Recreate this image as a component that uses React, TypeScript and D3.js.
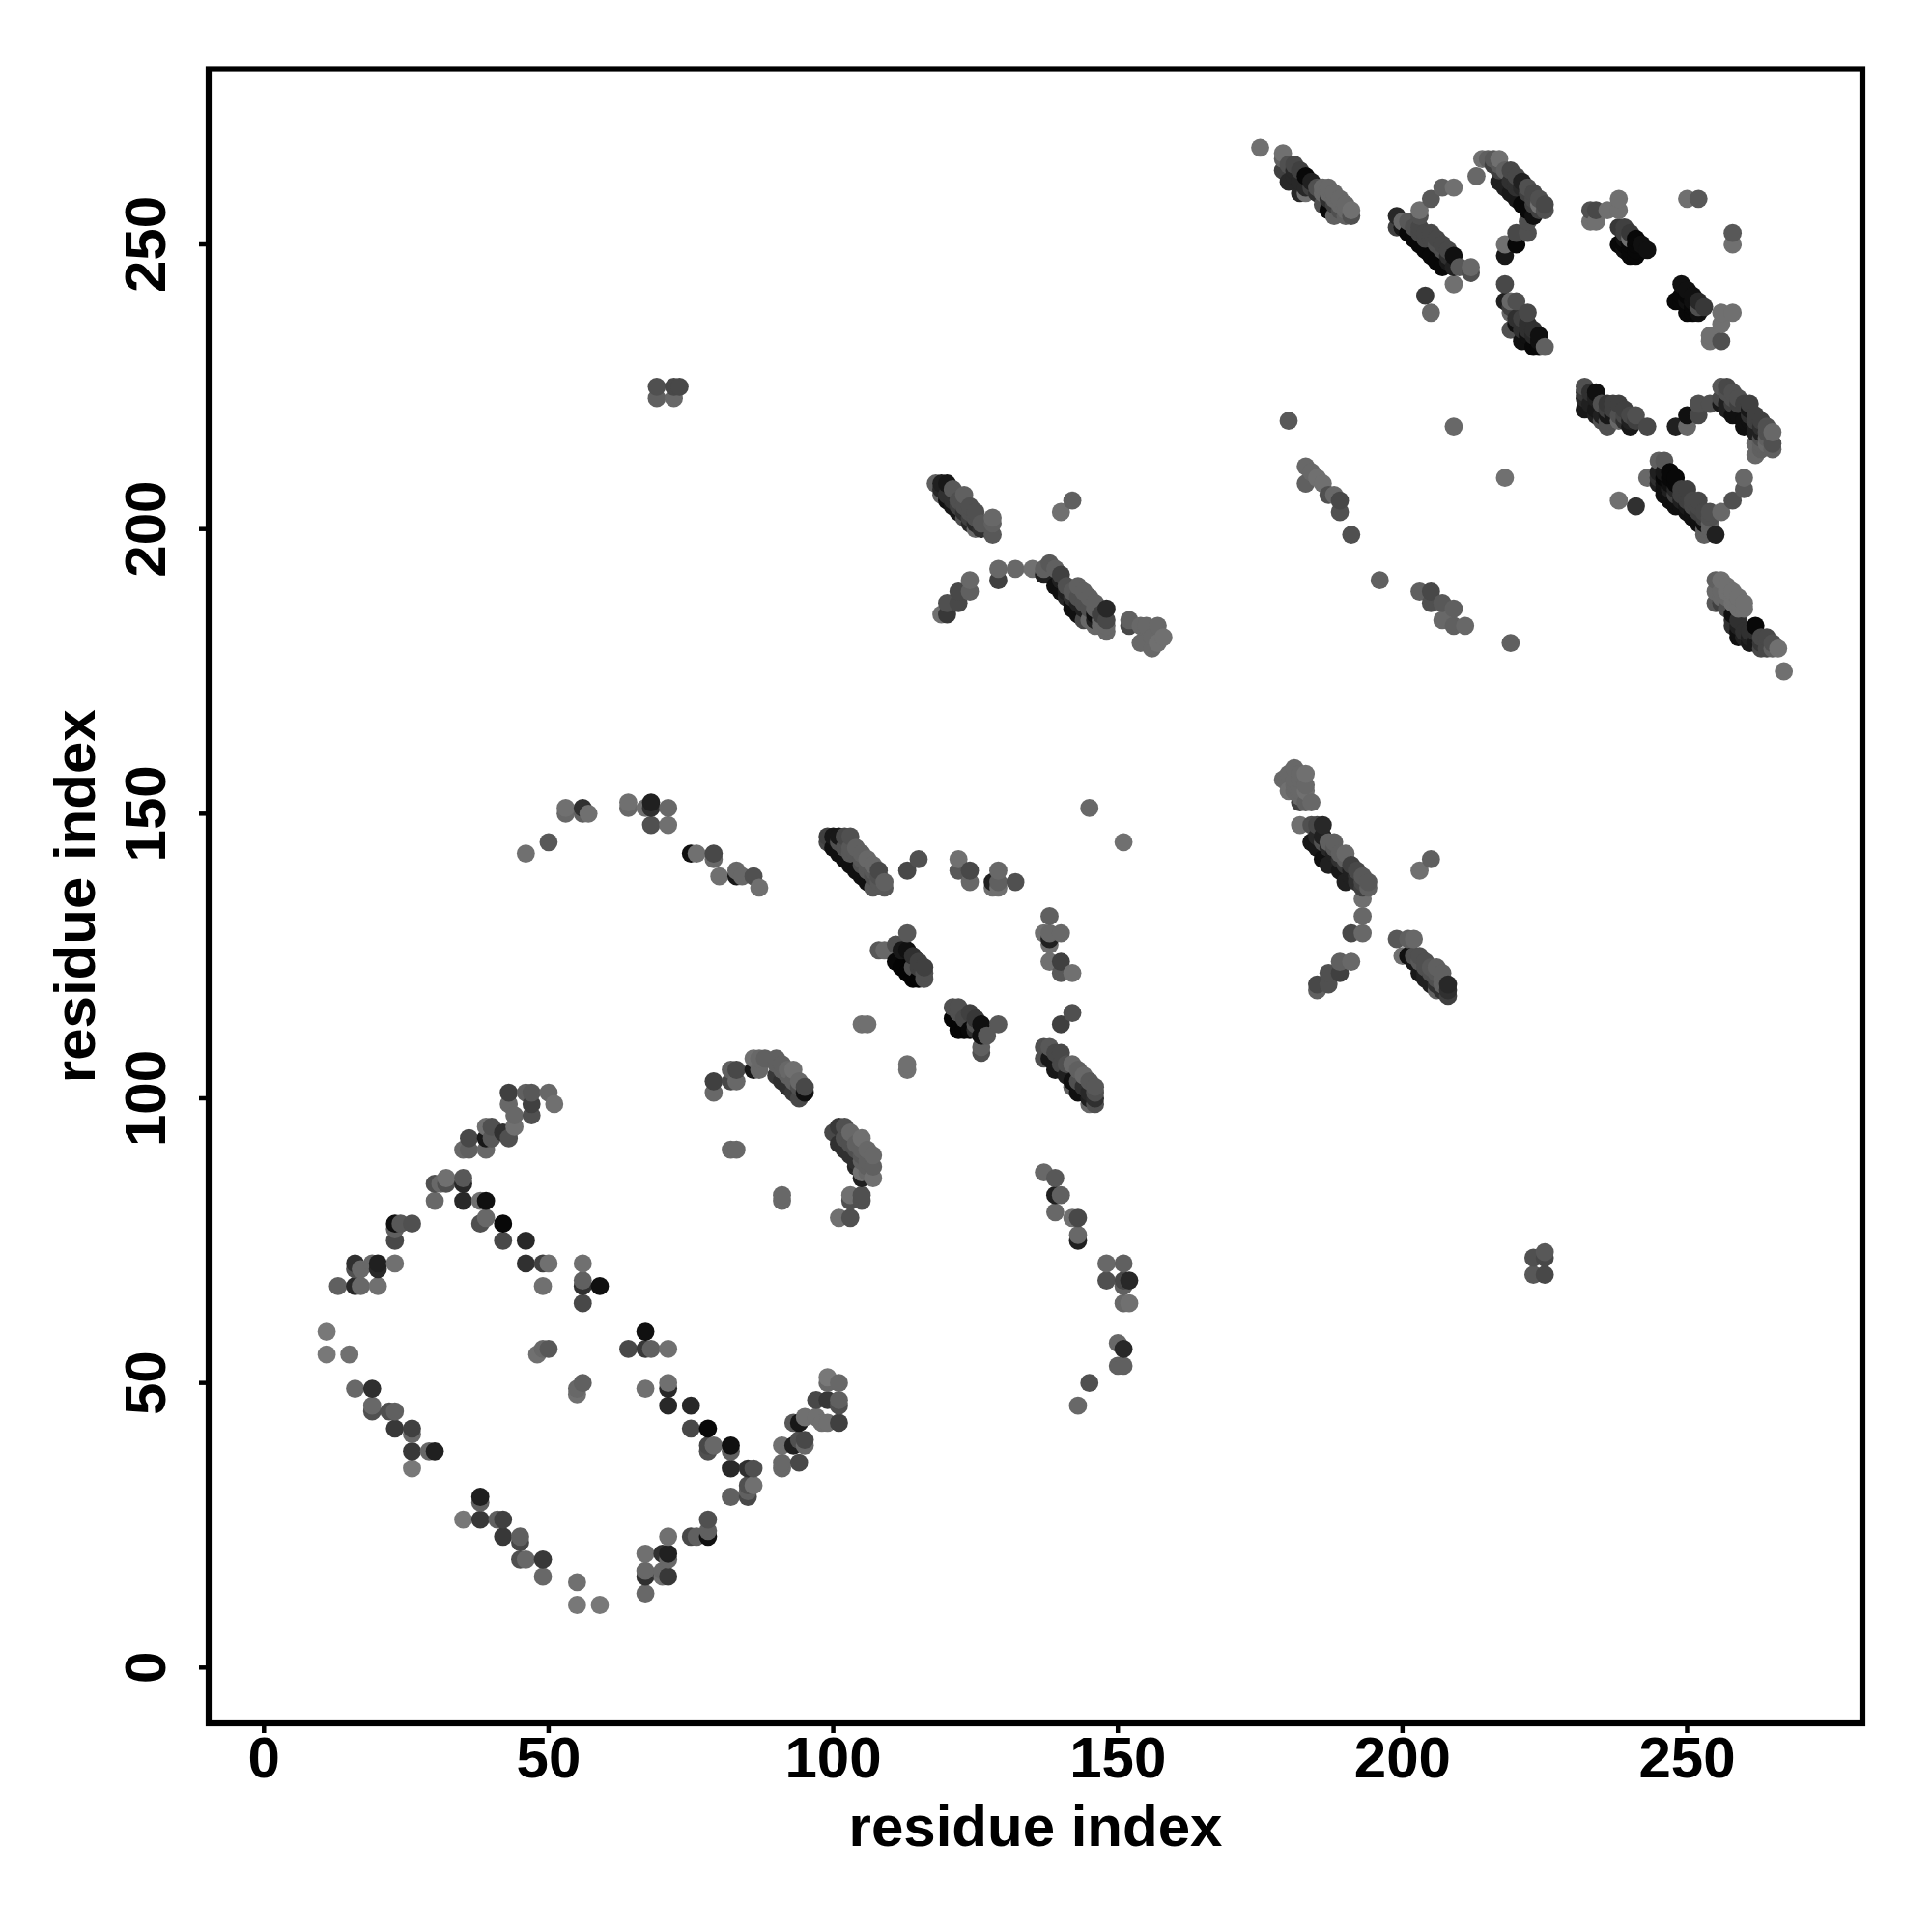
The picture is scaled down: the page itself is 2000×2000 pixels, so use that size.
import React from "react";
import * as d3 from "d3";

type P = [number, number, number];

const tickValues = [0, 50, 100, 150, 200, 250];
const axisTitle = "residue index";

// [residue i, residue j, grey level]
const lowerLeftLoop: P[] = [
  [43,101,0x40],[46,101,0x60],[47,101,0x58],[50,101,0x68],[51,99,0x70],[47,99,0x40],[47,97,0x50],[43,99,0x68],[44,97,0x68],[44,95,0x70],[43,93,0x50],[42,94,0x30],
  [40,95,0x50],[39,95,0x70],[40,93,0x58],[39,93,0x18],[39,91,0x68],[36,93,0x48],[35,91,0x68],[36,91,0x60],
  [30,85,0x50],[30,82,0x68],[31,85,0x68],[32,85,0x50],[32,86,0x70],[35,85,0x28],[35,86,0x58],[35,82,0x28],[38,82,0x70],[39,82,0x10],
  [39,79,0x68],[38,78,0x50],[42,78,0x08],[42,75,0x48],[46,75,0x28],[46,71,0x30],[49,71,0x40],[50,71,0x70],[49,67,0x70],[56,71,0x70],[56,68,0x60],[56,67,0x30],[59,67,0x10],[56,64,0x48],
  [26,78,0x50],[23,78,0x10],[24,78,0x58],[23,77,0x60],[23,75,0x48],[23,71,0x70],[20,71,0x20],[20,70,0x28],[19,71,0x68],[16,71,0x30],[16,70,0x50],[17,70,0x68],[20,67,0x70],[17,67,0x68],[16,67,0x28],[13,67,0x60],
  [11,59,0x78],[11,55,0x78],[15,55,0x70],[67,59,0x10],[64,56,0x48],[67,56,0x38],[68,56,0x60],[71,56,0x70],[50,56,0x58],[49,56,0x68],[48,55,0x70],[56,50,0x60],[55,48,0x70],[55,49,0x68],
  [16,49,0x68],[19,49,0x30],[19,46,0x68],[19,45,0x50],[22,45,0x50],[23,45,0x60],[23,42,0x38],[26,42,0x40],[26,41,0x68],[26,38,0x38],[29,38,0x68],[30,38,0x20],[26,35,0x78],
];
const lowerBottomLoop: P[] = [
  [38,30,0x20],[38,29,0x60],[35,26,0x78],[38,26,0x38],[41,26,0x60],[42,26,0x40],[42,23,0x38],[45,23,0x60],[45,22,0x48],[45,19,0x50],[46,19,0x68],[49,19,0x38],[49,16,0x68],[55,15,0x70],[55,11,0x78],[59,11,0x78],
  [67,20,0x70],[67,17,0x68],[67,16,0x30],[67,13,0x68],[70,20,0x30],[71,20,0x20],[71,19,0x68],[70,17,0x68],[71,16,0x38],[70,16,0x70],[71,23,0x70],[75,23,0x48],[76,23,0x60],[78,23,0x10],[78,24,0x60],[78,26,0x50],
  [67,49,0x70],[71,50,0x70],[71,49,0x28],[71,46,0x28],[75,46,0x28],[75,42,0x48],[78,42,0x08],[78,39,0x48],[79,39,0x68],[78,38,0x50],[82,39,0x10],[82,38,0x60],[82,35,0x28],[85,35,0x30],[86,35,0x50],[85,32,0x50],[86,32,0x70],[85,30,0x48],[85,31,0x60],[82,30,0x60],
  [91,39,0x70],[91,36,0x68],[91,35,0x68],[94,36,0x48],[93,39,0x20],[94,40,0x50],[95,40,0x48],[95,39,0x68],[93,43,0x58],[94,43,0x18],[95,44,0x70],[97,44,0x70],[98,43,0x70],[99,43,0x70],[101,43,0x40],[97,47,0x48],[99,47,0x38],[101,47,0x60],[101,46,0x50],[99,51,0x78],[99,50,0x68],[101,50,0x68],
];
const arcAbove: P[] = [
  [46,143,0x70],[50,145,0x58],[53,151,0x70],[53,150,0x68],[56,151,0x30],[56,150,0x60],[57,150,0x70],[64,152,0x70],[64,151,0x68],[67,151,0x70],[68,152,0x20],[68,151,0x30],[71,151,0x68],[68,148,0x50],[71,148,0x70],
  [75,143,0x10],[76,143,0x70],[79,143,0x48],[79,142,0x68],[80,139,0x70],[83,140,0x68],[83,139,0x18],[84,139,0x68],[86,139,0x50],[87,137,0x70],
];
const middleBands: P[] = [
  [99,146,0x40],[99,145,0x48],[100,146,0x18],[101,146,0x18],[102,146,0x48],[103,146,0x50],[100,144,0x10],[101,143,0x10],[102,142,0x10],[103,141,0x10],[104,140,0x10],[105,139,0x10],[106,138,0x10],[107,137,0x58],
  [104,144,0x60],[105,143,0x60],[106,142,0x68],[107,141,0x68],[108,140,0x48],[109,138,0x60],[109,137,0x58],[113,140,0x48],[115,142,0x50],
  [101,145,0x50],[102,144,0x50],[103,144,0x58],[103,143,0x58],[104,143,0x58],[105,142,0x58],[105,141,0x50],[106,141,0x58],[106,140,0x58],[107,140,0x58],[107,139,0x50],[108,139,0x50],[108,138,0x58],
  [113,129,0x58],[108,126,0x58],[109,126,0x68],[111,127,0x50],[113,126,0x10],[112,126,0x18],[111,124,0x08],[112,123,0x04],[113,122,0x04],[114,121,0x04],[115,121,0x04],[115,124,0x40],[116,122,0x50],[114,123,0x50],[114,125,0x30],[115,123,0x40],[116,123,0x40],[116,121,0x50],
  [105,113,0x70],[106,113,0x70],[113,106,0x70],[113,105,0x70],
  [122,142,0x70],[122,140,0x58],[124,140,0x48],[124,138,0x68],[128,138,0x20],[128,137,0x70],[129,140,0x68],[129,138,0x60],[129,137,0x70],[132,138,0x50],
  [138,132,0x60],[137,129,0x70],[138,129,0x68],[140,129,0x68],[138,128,0x20],[138,127,0x70],[138,124,0x70],[140,124,0x40],[140,122,0x58],[142,122,0x70],[142,115,0x50],[140,113,0x40],
  [121,116,0x50],[122,116,0x50],[121,114,0x05],[122,112,0x05],[123,112,0x05],[124,115,0x40],[126,113,0x10],[126,111,0x10],[127,111,0x58],[129,113,0x58],[126,108,0x50],[126,109,0x60],[122,115,0x50],[123,114,0x48],[125,112,0x30],[124,112,0x08],[125,114,0x38],[125,113,0x50],
  [137,109,0x50],[137,107,0x50],[138,109,0x58],[140,108,0x48],[139,105,0x18],[142,106,0x68],[144,104,0x68],[142,102,0x60],[143,101,0x10],[146,102,0x58],[146,101,0x50],[146,100,0x30],[145,99,0x68],[146,99,0x50],[144,101,0x10],
  [138,107,0x18],[139,106,0x18],[140,105,0x18],[141,104,0x20],[142,103,0x10],[141,106,0x50],[143,105,0x60],[143,103,0x50],[145,103,0x58],[144,102,0x30],[145,101,0x28],[145,100,0x20],[140,106,0x48],[139,108,0x48],
  [137,87,0x68],[139,86,0x58],[139,83,0x20],[140,83,0x60],[139,80,0x68],[142,79,0x70],[143,79,0x48],[143,76,0x68],[143,75,0x20],
  [148,71,0x68],[151,71,0x60],[148,68,0x50],[151,67,0x60],[152,68,0x28],[151,68,0x48],[151,64,0x68],[152,64,0x70],[150,57,0x68],[151,56,0x28],[151,53,0x60],[150,53,0x60],[145,50,0x50],[143,46,0x68],
  [79,101,0x68],[79,103,0x40],[82,103,0x48],[83,103,0x68],[82,105,0x60],[83,105,0x48],[86,105,0x18],[87,105,0x68],[86,107,0x70],[87,107,0x68],[88,107,0x60],[90,107,0x60],[90,106,0x60],[91,106,0x60],[93,105,0x70],[94,103,0x68],[95,102,0x48],[95,101,0x10],[94,100,0x48],[90,104,0x38],[91,103,0x30],[92,102,0x30],[93,101,0x38],
  [92,104,0x60],[93,103,0x60],[94,102,0x50],[91,105,0x60],[92,105,0x68],
  [100,94,0x48],[101,95,0x38],[102,95,0x50],[103,94,0x68],[105,93,0x70],[101,92,0x30],[102,91,0x30],[103,90,0x30],[106,91,0x68],[107,90,0x68],[105,89,0x60],[107,88,0x60],[105,87,0x70],[107,86,0x70],[105,86,0x20],[105,83,0x50],[103,83,0x70],[105,82,0x50],[103,82,0x50],[103,79,0x50],[101,79,0x70],
  [102,93,0x50],[103,92,0x50],[104,92,0x60],[104,91,0x50],[105,91,0x60],[105,90,0x58],[104,89,0x30],[106,89,0x60],[106,88,0x60],[106,87,0x68],[104,88,0x28],
  [82,91,0x68],[83,91,0x68],[91,83,0x68],[91,82,0x68],
];
const crossUpper: P[] = [
  [118,208,0x60],[119,208,0x20],[120,208,0x18],[119,207,0x28],[119,206,0x60],[121,207,0x58],[123,206,0x60],[120,205,0x10],[121,204,0x18],[122,203,0x18],[125,203,0x50],[123,202,0x50],[124,201,0x28],[125,200,0x68],[128,202,0x68],[128,201,0x60],[128,199,0x58],[124,204,0x50],
  [120,206,0x30],[121,205,0x30],[122,205,0x50],[122,204,0x40],[123,204,0x50],[123,203,0x30],[124,203,0x50],[124,202,0x40],[125,201,0x28],[125,202,0x50],[126,201,0x58],[126,200,0x30],
  [140,203,0x70],[142,205,0x60],[129,193,0x68],[129,191,0x40],[132,193,0x68],[135,193,0x70],[137,193,0x60],[138,194,0x58],[137,192,0x20],[140,192,0x40],[139,193,0x60],[139,190,0x10],[140,189,0x10],[141,188,0x28],[142,187,0x10],[143,190,0x60],[145,188,0x60],[142,186,0x10],[143,185,0x10],[144,184,0x48],[146,185,0x10],[148,186,0x28],[148,184,0x48],[148,182,0x68],[145,184,0x68],
  [140,191,0x20],[141,190,0x50],[141,189,0x20],[142,189,0x58],[142,188,0x30],[143,188,0x50],[143,187,0x20],[144,189,0x60],[144,187,0x50],[144,186,0x20],[145,186,0x50],[146,187,0x60],[146,186,0x60],[146,184,0x20],[147,185,0x40],[147,184,0x68],[146,183,0x68],[147,183,0x68],[148,183,0x68],
  [124,191,0x68],[124,189,0x60],[122,189,0x48],[122,187,0x48],[120,187,0x50],[120,185,0x38],[119,185,0x70],
  [152,184,0x60],[152,183,0x48],[154,183,0x68],[154,180,0x68],[155,183,0x68],[157,183,0x68],[156,179,0x68],[156,181,0x68],[158,181,0x70],[157,180,0x70],
  [69,225,0x50],[69,223,0x60],[72,223,0x68],[72,225,0x48],[73,225,0x48],[223,72,0x50],[223,69,0x58],[225,69,0x48],[225,73,0x58],[225,72,0x48],[145,151,0x68],[151,145,0x70],
];
const topLeftBands: P[] = [
  [175,267,0x70],[179,266,0x70],[179,265,0x60],[179,263,0x40],[180,264,0x50],[181,264,0x48],[183,262,0x08],[180,261,0x28],[182,259,0x28],[183,259,0x70],[184,261,0x20],[186,260,0x68],[187,260,0x68],[186,257,0x50],[188,255,0x60],[189,258,0x68],[190,257,0x68],[191,256,0x70],[191,255,0x50],[190,255,0x60],[187,256,0x08],
  [181,263,0x28],[181,262,0x28],[182,263,0x40],[182,261,0x28],[183,260,0x28],[184,260,0x40],[185,259,0x30],[185,260,0x50],[186,259,0x68],[187,259,0x68],[187,258,0x30],[188,259,0x68],[188,258,0x68],[188,257,0x40],[189,257,0x68],[189,256,0x50],[190,256,0x68],
  [199,255,0x28],[199,253,0x40],[200,254,0x68],[203,256,0x70],[203,255,0x50],[205,258,0x58],[207,260,0x60],[209,260,0x70],[202,251,0x08],[204,249,0x08],[206,247,0x08],[205,252,0x48],[207,250,0x48],[209,248,0x10],[209,246,0x20],[210,246,0x58],[212,246,0x68],[212,245,0x50],[209,243,0x70],[204,241,0x38],[205,238,0x68],
  [200,253,0x18],[201,252,0x08],[203,250,0x08],[205,248,0x08],[207,246,0x08],[201,254,0x58],[202,253,0x50],[203,253,0x48],[203,252,0x48],[204,252,0x48],[204,251,0x48],[205,251,0x48],[206,251,0x48],[206,250,0x50],[207,249,0x50],[208,249,0x48],[208,248,0x30],[208,247,0x18],
  [214,265,0x70],[213,262,0x68],[215,265,0x60],[217,265,0x70],[216,265,0x58],[218,263,0x60],[219,263,0x48],[221,261,0x20],[223,259,0x48],[218,260,0x20],[220,258,0x18],[222,256,0x08],[224,257,0x70],[225,257,0x48],[225,256,0x50],[222,254,0x50],[222,252,0x50],[220,252,0x48],[220,250,0x08],[218,250,0x70],[218,248,0x18],
  [216,264,0x40],[217,263,0x40],[217,264,0x58],[217,261,0x20],[219,259,0x18],[221,257,0x08],[223,255,0x10],[219,261,0x30],[220,262,0x48],[220,261,0x30],[220,260,0x30],[221,260,0x28],[222,260,0x50],[222,259,0x40],[223,258,0x48],[224,258,0x50],[224,256,0x40],[223,257,0x40],
  [218,243,0x48],[218,240,0x20],[219,240,0x68],[220,240,0x50],[219,238,0x68],[222,238,0x48],[219,235,0x50],[221,233,0x10],[221,235,0x30],[222,236,0x30],[224,234,0x10],[225,232,0x60],[223,232,0x08],
  [220,237,0x30],[220,236,0x10],[221,237,0x40],[221,236,0x30],[222,234,0x10],[222,235,0x30],[223,235,0x30],[223,234,0x28],[224,233,0x10],[224,232,0x08],[219,239,0x40],
  [233,256,0x50],[234,256,0x48],[233,254,0x70],[234,254,0x70],[238,258,0x70],[236,256,0x70],[238,256,0x70],[238,253,0x38],[239,253,0x40],[238,250,0x08],[240,248,0x08],[241,251,0x08],[243,249,0x10],[240,251,0x70],
  [239,251,0x10],[239,250,0x08],[239,249,0x10],[240,250,0x08],[240,249,0x08],[241,250,0x08],[241,249,0x08],[241,248,0x08],[242,250,0x10],[239,252,0x40],[240,252,0x38],
  [250,258,0x70],[252,258,0x58],[258,252,0x58],[258,250,0x70],[249,243,0x10],[248,240,0x08],[251,241,0x10],[250,238,0x08],[252,238,0x10],[253,239,0x38],[252,239,0x50],[256,238,0x70],[258,238,0x70],[256,236,0x70],[256,233,0x50],[254,234,0x70],[254,233,0x70],
  [249,240,0x08],[249,241,0x08],[250,241,0x08],[250,240,0x10],[251,240,0x10],[251,239,0x08],[251,238,0x08],[250,242,0x10],[252,240,0x28],
];
const rightBands: P[] = [
  [232,225,0x50],[232,224,0x38],[232,223,0x28],[234,224,0x10],[232,221,0x18],[235,222,0x50],[236,222,0x38],[238,222,0x40],[235,219,0x50],[238,219,0x68],[237,220,0x18],[240,220,0x48],[240,218,0x18],[243,218,0x48],[248,218,0x20],[250,220,0x10],[250,218,0x68],[252,222,0x50],[252,220,0x48],[254,222,0x50],
  [233,224,0x30],[233,222,0x20],[234,223,0x20],[234,221,0x18],[234,220,0x20],[235,220,0x20],[236,220,0x18],[236,221,0x40],[237,221,0x40],[237,222,0x40],[238,220,0x50],[239,221,0x40],[239,220,0x48],[239,219,0x30],[240,219,0x20],[241,219,0x40],[241,220,0x50],[236,219,0x50],[236,218,0x50],
  [256,225,0x58],[257,225,0x48],[256,223,0x48],[256,222,0x18],[259,223,0x50],[258,220,0x10],[261,221,0x18],[260,218,0x10],[263,219,0x40],[262,217,0x20],[265,217,0x68],[265,215,0x50],[265,214,0x60],[262,213,0x68],[262,215,0x68],
  [257,222,0x20],[257,221,0x20],[258,224,0x50],[258,222,0x40],[259,220,0x10],[259,222,0x40],[260,222,0x40],[260,219,0x10],[261,219,0x10],[261,220,0x30],[262,220,0x40],[262,219,0x40],[262,218,0x20],[263,218,0x30],[263,217,0x20],[263,216,0x50],[264,218,0x50],[264,216,0x60],[264,215,0x68],[264,217,0x50],[263,215,0x60],[263,214,0x60],[258,223,0x50],[261,222,0x40],[257,224,0x50],
  [245,212,0x60],[246,212,0x58],[243,209,0x68],[247,209,0x08],[245,208,0x20],[246,206,0x10],[250,207,0x40],[249,204,0x10],[252,205,0x48],[251,202,0x10],[254,203,0x50],[256,203,0x68],[254,201,0x60],[253,199,0x60],[255,199,0x20],[258,205,0x50],[260,207,0x58],[260,209,0x68],[238,205,0x70],[241,204,0x30],
  [245,210,0x20],[245,209,0x30],[246,209,0x08],[246,208,0x10],[246,207,0x10],[247,208,0x10],[247,207,0x20],[247,206,0x10],[247,205,0x10],[248,208,0x08],[248,207,0x28],[248,206,0x40],[248,205,0x10],[248,204,0x10],[249,207,0x40],[249,206,0x40],[249,205,0x20],[250,206,0x40],[250,205,0x40],[250,204,0x18],[250,203,0x10],[251,205,0x48],[251,204,0x48],[251,203,0x10],[252,204,0x48],[252,203,0x40],[252,202,0x10],[252,201,0x10],[253,203,0x48],[253,202,0x40],[253,201,0x10],[253,200,0x60],[254,200,0x60],[254,202,0x50],[247,210,0x08],[248,209,0x08],[246,210,0x18],
  [255,191,0x60],[255,189,0x68],[255,187,0x58],[256,191,0x70],[257,190,0x70],[258,189,0x70],[259,188,0x70],[260,186,0x70],[257,186,0x50],[259,182,0x10],[262,183,0x08],[261,180,0x18],[264,181,0x48],[263,179,0x48],[266,179,0x70],[265,179,0x60],[267,175,0x70],[259,184,0x30],
  [256,189,0x68],[256,188,0x68],[256,187,0x40],[257,189,0x70],[257,188,0x68],[258,188,0x70],[258,187,0x70],[259,187,0x70],[259,186,0x70],[260,187,0x70],[258,185,0x10],[258,184,0x30],[258,183,0x30],[259,183,0x20],[259,181,0x10],[260,182,0x30],[260,181,0x20],[261,182,0x30],[261,181,0x20],[262,182,0x30],[262,180,0x18],[263,180,0x38],[263,181,0x48],[264,180,0x48],[264,179,0x48],[265,180,0x50],
  [180,219,0x58],[209,218,0x68],[218,209,0x70],[219,180,0x60],[196,191,0x60],
  [183,211,0x68],[183,208,0x60],[184,210,0x68],[185,209,0x70],[186,208,0x70],[187,206,0x50],[188,206,0x68],[189,205,0x48],[189,203,0x50],[191,199,0x50],
  [203,189,0x60],[205,189,0x48],[205,187,0x50],[207,187,0x58],[207,184,0x68],[209,186,0x60],[209,183,0x60],[211,183,0x68],
];
const crossLower: P[] = [
  [181,158,0x68],[183,157,0x70],[179,156,0x68],[180,157,0x68],[180,154,0x70],[183,155,0x68],[183,154,0x70],[182,152,0x40],[184,152,0x68],[183,152,0x60],[182,148,0x70],[184,148,0x50],[186,148,0x28],[185,148,0x48],
  [181,156,0x68],[182,156,0x68],[181,155,0x68],[182,154,0x68],[182,157,0x68],[181,154,0x68],[182,153,0x68],
  [184,145,0x18],[185,144,0x18],[186,142,0x10],[187,141,0x20],[189,140,0x18],[190,138,0x20],[188,145,0x60],[190,143,0x68],[192,140,0x48],[193,139,0x58],[194,138,0x58],[194,137,0x60],[193,135,0x70],[193,132,0x68],[193,129,0x68],[191,129,0x48],
  [185,146,0x28],[186,146,0x20],[186,145,0x50],[187,145,0x60],[187,144,0x28],[188,144,0x58],[188,143,0x20],[189,143,0x60],[189,142,0x30],[190,141,0x38],[190,142,0x60],[191,141,0x40],[191,140,0x20],[191,139,0x20],[192,139,0x30],[192,138,0x30],[193,138,0x48],[193,137,0x40],
  [205,142,0x60],[203,140,0x70],[199,128,0x58],[201,128,0x60],[202,128,0x68],[200,125,0x70],[201,125,0x10],[203,125,0x50],[202,124,0x18],[203,122,0x18],[204,121,0x20],[205,120,0x20],[206,123,0x60],[207,120,0x60],[208,120,0x28],[208,119,0x30],[208,118,0x40],[206,119,0x60],
  [202,125,0x50],[203,124,0x58],[204,124,0x50],[204,123,0x50],[205,123,0x58],[205,122,0x50],[206,122,0x58],[206,121,0x50],[207,122,0x60],[207,121,0x60],[207,119,0x30],[206,120,0x30],[204,122,0x20],[205,121,0x20],
  [191,124,0x68],[189,124,0x60],[189,122,0x40],[187,122,0x50],[187,120,0x50],[185,120,0x48],[185,119,0x60],
];

const points: P[] = [
  ...lowerLeftLoop, ...lowerBottomLoop, ...arcAbove, ...middleBands,
  ...crossUpper, ...topLeftBands, ...rightBands, ...crossLower,
].sort((a, b) => d3.ascending(a[0], b[0]) || d3.ascending(a[1], b[1]));

const W = 2000;
const L = 216, R = 1928, T = 71.5, B = 1784;
const x = d3.scaleLinear().domain([-9.72, 280.8]).range([L, R]);
const y = d3.scaleLinear().domain([-9.79, 280.8]).range([B, T]);
const FONT = "'Liberation Sans', Arial, sans-serif";
const FS = 60;

export default function App() {
  return (
    <svg width={W} height={W} viewBox={`0 0 ${W} ${W}`} style={{ position: "absolute", left: 0, top: 0, background: "#fff" }}>
      {points.map((p, i) => {
        const g = p[2];
        return <circle key={i} cx={x(p[0])} cy={y(p[1])} r={9.4} fill={d3.rgb(g, g, g).formatHex()} />;
      })}
      <rect x={L} y={T} width={R - L} height={B - T} fill="none" stroke="#000" strokeWidth={6.2} />
      {tickValues.map((t) => (
        <g key={`x${t}`}>
          <line x1={x(t)} x2={x(t)} y1={B} y2={B + 10} stroke="#000" strokeWidth={4.5} />
          <text x={x(t)} y={1840} textAnchor="middle" fontFamily={FONT} fontWeight="bold" fontSize={FS} fill="#000">{t}</text>
        </g>
      ))}
      {tickValues.map((t) => (
        <g key={`y${t}`}>
          <line x1={L} x2={L - 10} y1={y(t)} y2={y(t)} stroke="#000" strokeWidth={4.5} />
          <text transform={`translate(171,${y(t)}) rotate(-90)`} textAnchor="middle" fontFamily={FONT} fontWeight="bold" fontSize={FS} fill="#000">{t}</text>
        </g>
      ))}
      <text x={(L + R) / 2} y={1911} textAnchor="middle" fontFamily={FONT} fontWeight="bold" fontSize={FS} fill="#000">{axisTitle}</text>
      <text transform={`translate(98,${(T + B) / 2}) rotate(-90)`} textAnchor="middle" fontFamily={FONT} fontWeight="bold" fontSize={FS} fill="#000">{axisTitle}</text>
    </svg>
  );
}
